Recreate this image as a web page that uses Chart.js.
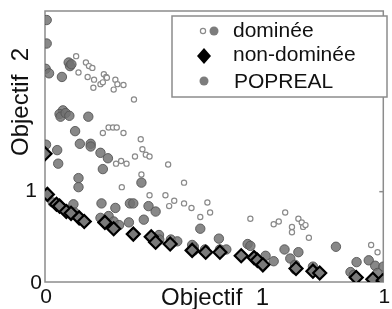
<!DOCTYPE html>
<html>
<head>
<meta charset="utf-8">
<script src="https://cdn.jsdelivr.net/npm/chart.js@4.4.1/dist/chart.umd.min.js"></script>
<style>
  html, body { margin: 0; padding: 0; background: #fff; }
  canvas { display: block; }
</style>
</head>
<body>
<canvas id="myChart" width="392" height="309"></canvas>
<script>
// dominated points, open circles
const domX = [0.092,0.121,0.130,0.140,0.099,0.126,0.145,0.143,0.174,0.181,0.183,0.164,0.171,0.208,0.214,0.232,0.203,0.263,
  0.171,0.188,0.201,0.212,0.232,0.283,0.288,0.298,0.309,0.266,0.210,0.225,0.241,0.227,0.285,0.364,0.411,0.309,0.356,0.367,
  0.382,0.411,0.433,0.459,0.480,0.488,0.607,0.676,0.691,0.710,0.730,0.730,0.749,0.759,0.763,0.770,0.780,0.964,0.983]
const domY = [2.50,2.43,2.39,2.37,2.32,2.27,2.24,2.15,2.30,2.27,2.26,2.19,2.21,2.24,2.19,2.18,2.13,2.02,
  1.65,1.71,1.71,1.71,1.65,1.58,1.47,1.41,1.39,1.39,1.31,1.34,1.31,1.05,1.19,1.30,1.10,0.96,0.96,0.84,
  0.90,0.87,0.82,0.72,0.88,0.77,0.70,0.64,0.67,0.77,0.61,0.55,0.70,0.66,0.61,0.63,0.49,0.41,0.33]

// POPREAL, grey filled circles
const popX = [0.005,0.005,0.002,0.012,0.070,0.074,0.078,0.050,0.053,0.043,0.046,0.061,0.072,0.128,0.089,0.103,0.135,0.135,
  0.164,0.186,0.171,0.036,0.039,0.003,0.099,0.099,0.285,0.167,0.251,0.261,0.306,0.327,0.208,0.292,0.248,
  0.023,0.052,0.067,0.084,0.087,0.095,0.106,0.164,0.188,0.203,0.219,0.337,0.338,0.372,0.391,0.440,0.459,
  0.435,0.440,0.473,0.514,0.517,0.536,0.599,0.607,0.620,0.628,0.652,0.676,0.708,0.725,0.749,0.739,0.739,
  0.792,0.860,0.921,0.903,0.913,0.957,0.976,1.000,0.983]
const popY = [2.90,2.64,2.36,2.31,2.43,2.39,2.41,2.27,1.90,1.86,1.83,1.87,1.84,1.83,1.67,1.53,1.53,1.50,
  1.43,1.37,1.25,1.46,1.31,1.52,1.15,1.05,1.10,0.87,0.87,0.87,0.84,0.78,0.82,0.69,0.66,
  0.88,0.82,0.80,0.86,0.77,0.73,0.69,0.71,0.73,0.67,0.63,0.52,0.47,0.47,0.45,0.39,0.59,
  0.41,0.35,0.36,0.48,0.36,0.36,0.42,0.40,0.28,0.24,0.29,0.23,0.36,0.26,0.33,0.19,0.14,
  0.17,0.39,0.22,0.11,0.08,0.24,0.18,0.17,0.10]

// non-dominated points, diamonds
const ndX = [0.000,0.007,0.034,0.043,0.063,0.077,0.101,0.116,0.177,0.203,0.261,0.314,0.327,0.370,0.435,0.475,0.517,0.580,
  0.618,0.628,0.644,0.742,0.792,0.812,0.920,0.969,1.000]
const ndY = [1.42,0.97,0.86,0.84,0.78,0.76,0.71,0.67,0.66,0.59,0.53,0.50,0.44,0.42,0.35,0.33,0.33,0.29,
  0.27,0.24,0.19,0.15,0.12,0.10,0.05,0.03,0.02]

const xTickValues = [0, 1]
const xTickLabels = ['0', '1']
const yTickValues = [0, 1]
const yTickLabels = ['0', '1']

function pts(xs, ys) {
    return xs.map((x, i) => ({x: x, y: ys[i]}))
}

const FONT = '"Liberation Sans", Arial, sans-serif'

const decor = {
    id: 'decor',
    beforeDatasetsDraw(chart) {
        const ctx = chart.ctx
        const a = chart.chartArea
        ctx.save()
        ctx.strokeStyle = '#8c8c8c'
        ctx.lineWidth = 1.5
        ctx.strokeRect(a.left, a.top, a.right - a.left, a.bottom - a.top)
        // small tick on right side at y=1
        const y1 = chart.scales.y.getPixelForValue(1)
        ctx.beginPath()
        ctx.moveTo(a.right, y1)
        ctx.lineTo(a.right - 4, y1)
        ctx.stroke()
        ctx.restore()
    },
    afterDatasetsDraw(chart) {
        const ctx = chart.ctx
        const xs = chart.scales.x
        const ys = chart.scales.y
        ctx.save()
        ctx.fillStyle = '#111'
        ctx.font = '21px ' + FONT
        ctx.textAlign = 'center'
        ctx.textBaseline = 'middle'
        xTickValues.forEach((v, i) => {
            ctx.fillText(xTickLabels[i], xs.getPixelForValue(v) + 1, 297)
        })
        const yTickX = [36, 31]
        const yTickDy = [1, 0]
        yTickValues.forEach((v, i) => {
            ctx.fillText(yTickLabels[i], yTickX[i], ys.getPixelForValue(v) + yTickDy[i])
        })

        // axis titles
        ctx.font = '24px ' + FONT
        ctx.fillText('Objectif  1', 215, 298)
        ctx.translate(21, 102)
        ctx.rotate(-Math.PI / 2)
        ctx.fillText('Objectif  2', 0, 0)
        ctx.restore()

        // legend
        ctx.save()
        ctx.fillStyle = '#fff'
        ctx.fillRect(172, 16, 215, 81)
        ctx.strokeStyle = '#8c8c8c'
        ctx.lineWidth = 1.5
        ctx.strokeRect(172, 16, 215, 81)

        ctx.beginPath()
        ctx.arc(203, 31, 2.6, 0, Math.PI * 2)
        ctx.fillStyle = '#fff'
        ctx.fill()
        ctx.strokeStyle = '#8a8a8a'
        ctx.lineWidth = 1.2
        ctx.stroke()

        ctx.fillStyle = 'rgba(110,110,110,0.9)'
        ctx.beginPath()
        ctx.arc(214, 31, 4.5, 0, Math.PI * 2)
        ctx.fill()
        ctx.beginPath()
        ctx.arc(204, 81, 4.5, 0, Math.PI * 2)
        ctx.fill()

        ctx.fillStyle = '#000'
        ctx.beginPath()
        ctx.moveTo(204, 48)
        ctx.lineTo(211, 56)
        ctx.lineTo(204, 64)
        ctx.lineTo(197, 56)
        ctx.closePath()
        ctx.fill()

        ctx.fillStyle = '#111'
        ctx.font = '21px ' + FONT
        ctx.textAlign = 'left'
        ctx.textBaseline = 'alphabetic'
        ctx.fillText('dominée', 233, 37)
        ctx.fillText('non-dominée', 233, 61)
        ctx.fillText('POPREAL', 234, 88)
        ctx.restore()
    }
}

const ctx = document.getElementById('myChart').getContext('2d')
const myChart = new Chart(ctx, {
    type: 'scatter',
    data: {
        datasets: [{
            label: 'non-dominée',
            data: pts(ndX, ndY),
            pointStyle: 'rectRot',
            radius: 6.5,
            backgroundColor: '#7a7a7a',
            borderColor: '#000',
            borderWidth: 2.2,
            order: 0
        },
        {
            label: 'POPREAL',
            data: pts(popX, popY),
            pointStyle: 'circle',
            radius: 4.7,
            backgroundColor: 'rgba(115,115,115,0.85)',
            borderColor: 'rgba(85,85,85,0.9)',
            borderWidth: 1,
            order: 1
        },
        {
            label: 'dominée',
            data: pts(domX, domY),
            pointStyle: 'circle',
            radius: 2.6,
            backgroundColor: '#fff',
            borderColor: '#8a8a8a',
            borderWidth: 1.2,
            order: 2
        }]
    },
    options: {
        responsive: false,
        animation: false,
        devicePixelRatio: 1,
        layout: { padding: { left: 45, right: 2, top: 11, bottom: 27 } },
        plugins: { legend: { display: false }, tooltip: { enabled: false } },
        scales: {
            x: { type: 'linear', min: 0, max: 1, display: false },
            y: { type: 'linear', min: 0, max: 3, display: false }
        }
    },
    plugins: [decor]
})
</script>
</body>
</html>
